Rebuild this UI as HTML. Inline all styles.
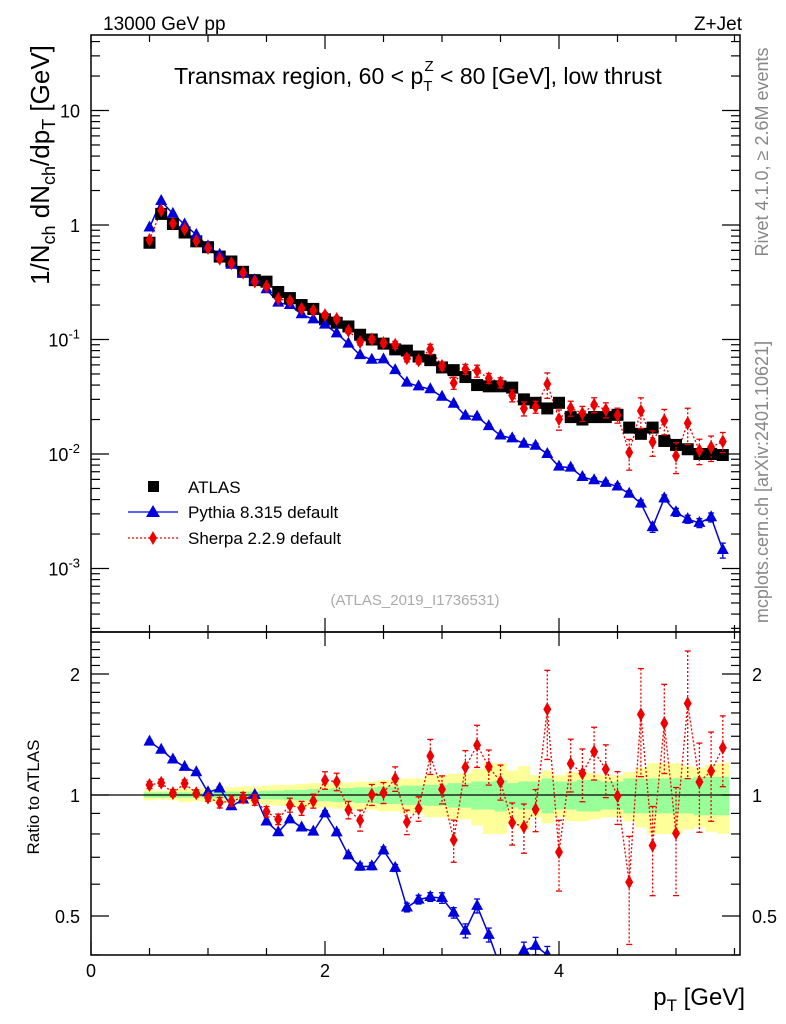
<!DOCTYPE html>
<html><head><meta charset="utf-8">
<style>
html,body{margin:0;background:#fff;overflow:hidden;width:786px;height:1024px;}
svg{display:block;}
svg text{font-family:"Liberation Sans","DejaVu Sans",sans-serif;}
</style></head>
<body>
<svg id="c" width="786" height="1024" viewBox="0 0 786 1024" xmlns="http://www.w3.org/2000/svg">
<text x="103" y="30" font-size="19">13000 GeV pp</text>
<text x="742" y="30" font-size="19" text-anchor="end">Z+Jet</text>
<text x="418" y="84" font-size="23" text-anchor="middle">Transmax region, 60 &lt; p<tspan font-size="15" dy="7">T</tspan><tspan font-size="15" dx="-8" dy="-20">Z</tspan><tspan dy="13"> &lt; 80 [GeV], low thrust</tspan></text>
<text transform="translate(768,152) rotate(-90)" font-size="18" fill="#888" text-anchor="middle">Rivet 4.1.0, ≥ 2.6M events</text>
<text transform="translate(768,482) rotate(-90)" font-size="18" fill="#888" text-anchor="middle">mcplots.cern.ch [arXiv:2401.10621]</text>
<text x="415" y="605" font-size="15" fill="#aaa" text-anchor="middle">(ATLAS_2019_I1736531)</text>
<text transform="translate(49,165) rotate(-90)" font-size="26" text-anchor="middle">1/N<tspan font-size="18" dy="6">ch</tspan><tspan dy="-6"> dN</tspan><tspan font-size="18" dy="6">ch</tspan><tspan dy="-6">/dp</tspan><tspan font-size="18" dy="6">T</tspan><tspan dy="-6"> [GeV]</tspan></text>
<text transform="translate(39,797) rotate(-90)" font-size="17" text-anchor="middle">Ratio to ATLAS</text>
<text x="745" y="1005" font-size="24" text-anchor="end">p<tspan font-size="17" dy="6">T</tspan><tspan dy="-6"> [GeV]</tspan></text>
<g id="bands"></g><g id="marks"></g><g id="axes"></g>
<g>
<rect x="148" y="481" width="11" height="11" fill="#000"/>
<text x="188" y="493" font-size="17">ATLAS</text>
<line x1="128" y1="512" x2="178" y2="512" stroke="#00d" stroke-width="1.3"/>
<polygon points="153,505 160,517 146,517" fill="#00d"/>
<text x="188" y="518" font-size="17">Pythia 8.315 default</text>
<line x1="128" y1="538" x2="178" y2="538" stroke="#e00" stroke-width="1.3" stroke-dasharray="2,2"/>
<polygon points="153,531 157,538 153,545 149,538" fill="#e00"/>
<text x="188" y="544" font-size="17">Sherpa 2.2.9 default</text>
</g>
</svg>
<script>
const xs=[];for(let i=0;i<50;i++)xs.push(+(0.5+0.1*i).toFixed(1));
const atlas=[0.70,1.25,1.02,0.86,0.72,0.64,0.53,0.48,0.39,0.33,0.32,0.26,0.23,0.20,0.185,0.15,0.14,0.13,0.11,0.10,0.092,0.082,0.080,0.071,0.066,0.057,0.054,0.047,0.040,0.039,0.039,0.038,0.030,0.028,0.025,0.028,0.021,0.020,0.021,0.021,0.022,0.017,0.015,0.017,0.013,0.012,0.011,0.010,0.010,0.0098];
const pythia=[0.95,1.62,1.25,1.01,0.82,0.65,0.55,0.45,0.38,0.33,0.275,0.21,0.20,0.166,0.15,0.135,0.113,0.092,0.073,0.0665,0.067,0.054,0.042,0.039,0.0368,0.0316,0.0275,0.0216,0.0212,0.0175,0.0145,0.0137,0.0123,0.0118,0.010,0.00775,0.0076,0.0063,0.0059,0.0056,0.0052,0.0045,0.0037,0.0023,0.0041,0.0031,0.0027,0.0025,0.0028,0.00145];
const sherpaRatio=[1.059,1.073,1.011,1.069,1.01,0.985,0.957,0.966,0.985,0.972,0.909,0.870,0.944,0.927,0.966,1.088,1.079,0.918,0.865,1.002,1.013,1.098,0.857,0.925,1.25,1.033,0.773,1.172,1.331,1.176,1.079,0.853,0.833,0.921,1.634,0.721,1.197,1.132,1.282,1.159,0.994,0.607,1.587,0.749,1.508,0.803,1.69,1.077,1.147,1.311];
const sherpaErr=[0.02,0.02,0.02,0.02,0.02,0.02,0.03,0.03,0.03,0.03,0.03,0.03,0.04,0.04,0.04,0.05,0.05,0.05,0.06,0.06,0.06,0.07,0.07,0.07,0.1,0.08,0.12,0.1,0.12,0.1,0.1,0.12,0.14,0.12,0.25,0.2,0.15,0.15,0.15,0.15,0.15,0.3,0.3,0.25,0.25,0.3,0.35,0.25,0.25,0.2];
const pythiaErr=[0.01,0.01,0.01,0.01,0.01,0.01,0.01,0.01,0.01,0.01,0.01,0.01,0.01,0.01,0.01,0.015,0.015,0.015,0.02,0.02,0.02,0.02,0.025,0.025,0.025,0.03,0.03,0.04,0.04,0.04,0.04,0.05,0.05,0.05,0.05,0.05,0.05,0.05,0.05,0.05,0.06,0.06,0.07,0.1,0.07,0.08,0.08,0.09,0.09,0.15];
const statBand=[0.015,0.015,0.015,0.015,0.015,0.015,0.02,0.02,0.02,0.02,0.025,0.025,0.03,0.03,0.035,0.035,0.04,0.04,0.045,0.045,0.05,0.05,0.055,0.055,0.06,0.06,0.07,0.07,0.08,0.08,0.09,0.07,0.08,0.08,0.1,0.08,0.08,0.09,0.09,0.08,0.08,0.1,0.1,0.1,0.1,0.1,0.1,0.11,0.11,0.11];
const totBand=[0.03,0.025,0.03,0.04,0.035,0.04,0.045,0.045,0.05,0.05,0.055,0.06,0.06,0.065,0.07,0.07,0.075,0.075,0.08,0.08,0.09,0.09,0.1,0.1,0.12,0.12,0.13,0.13,0.16,0.2,0.2,0.15,0.18,0.12,0.15,0.12,0.14,0.14,0.13,0.12,0.12,0.14,0.17,0.2,0.2,0.2,0.18,0.17,0.19,0.2];
const xTicks=[0,2,4];
const mainTickLabels=[[10,"10"],[1,"1"],[0.1,"10<sup>-1</sup>"],[0.01,"10<sup>-2</sup>"],[0.001,"10<sup>-3</sup>"]];
const ratioTickLabels=[[2,"2"],[1,"1"],[0.5,"0.5"]];

const L=91,R=740,MT=35,MB=632,RB=955;
const X=v=>L+v*117;
const Ym=v=>225-Math.log10(v)*114.5;
const Yr=v=>795-Math.log10(v)*402;
const NS='http://www.w3.org/2000/svg';
function el(t,a,p){const e=document.createElementNS(NS,t);for(const k in a)e.setAttribute(k,a[k]);p.appendChild(e);return e;}
const bands=document.getElementById('bands'),marks=document.getElementById('marks'),axes=document.getElementById('axes');
const clipR=el('clipPath',{id:'cr'},bands);el('rect',{x:L,y:MB,width:R-L,height:RB-MB},clipR);
const clipM=el('clipPath',{id:'cm'},bands);el('rect',{x:L,y:MT,width:R-L,height:MB-MT},clipM);
const bg=el('g',{'clip-path':'url(#cr)'},bands);
xs.forEach((x,i)=>{
 const a=el('rect',{x:X(x-0.05),width:117*0.1+0.5,y:Yr(1+totBand[i]),height:Yr(1-totBand[i])-Yr(1+totBand[i]),fill:'#ffff99'},bg);
 
 
});
xs.forEach((x,i)=>{
 const a=el('rect',{x:X(x-0.05),width:117*0.1+0.5,y:Yr(1+statBand[i]),height:Yr(1-statBand[i])-Yr(1+statBand[i]),fill:'#99ff99'},bg);
 
 
});
el('line',{x1:L,x2:R,y1:Yr(1),y2:Yr(1),stroke:'#000','stroke-width':1.3},bg);
const mg=el('g',{'clip-path':'url(#cm)'},marks);
const rg=el('g',{'clip-path':'url(#cr)'},marks);
function tri(g,x,y,c,n){const p=el('polygon',{points:`${x},${y-7} ${x+6},${y+4} ${x-6},${y+4}`,fill:c},g);}
function dia(g,x,y,c,n){const p=el('polygon',{points:`${x},${y-7} ${x+4},${y} ${x},${y+7} ${x-4},${y}`,fill:c},g);}
function eb(g,x,y1,y2,c,d){el('line',{x1:x,x2:x,y1:y1,y2:y2,stroke:c,'stroke-width':1.3,'stroke-dasharray':d||'none'},g);el('line',{x1:x-3,x2:x+3,y1:y1,y2:y1,stroke:c,'stroke-width':1.3},g);el('line',{x1:x-3,x2:x+3,y1:y2,y2:y2,stroke:c,'stroke-width':1.3},g);}
const sherpa=atlas.map((a,i)=>a*sherpaRatio[i]);
el('polyline',{points:xs.map((x,i)=>X(x)+','+Ym(pythia[i])).join(' '),fill:'none',stroke:'#00d','stroke-width':1.5},mg);
el('polyline',{points:xs.map((x,i)=>X(x)+','+Ym(sherpa[i])).join(' '),fill:'none',stroke:'#e00','stroke-width':1.3,'stroke-dasharray':'2,2'},mg);
xs.forEach((x,i)=>{const r=el('rect',{x:X(x)-6,y:Ym(atlas[i])-6,width:12,height:12,fill:'#000'},mg);});
xs.forEach((x,i)=>{eb(mg,X(x),Ym(pythia[i]*(1+pythiaErr[i])),Ym(pythia[i]*(1-pythiaErr[i])),'#00d');tri(mg,X(x),Ym(pythia[i]),'#00d','pythia-point');});
xs.forEach((x,i)=>{eb(mg,X(x),Ym(sherpa[i]*(1+sherpaErr[i])),Ym(sherpa[i]*(1-sherpaErr[i])),'#e00','2,2');dia(mg,X(x),Ym(sherpa[i]),'#e00','sherpa-point');});
const pr=pythia.map((p,i)=>p/atlas[i]);
el('polyline',{points:xs.map((x,i)=>X(x)+','+Yr(pr[i])).join(' '),fill:'none',stroke:'#00d','stroke-width':1.5},rg);
el('polyline',{points:xs.map((x,i)=>X(x)+','+Yr(sherpaRatio[i])).join(' '),fill:'none',stroke:'#e00','stroke-width':1.3,'stroke-dasharray':'2,2'},rg);
xs.forEach((x,i)=>{eb(rg,X(x),Yr(pr[i]*(1+pythiaErr[i])),Yr(pr[i]*(1-pythiaErr[i])),'#00d');tri(rg,X(x),Yr(pr[i]),'#00d','pythia-ratio-point');});
xs.forEach((x,i)=>{eb(rg,X(x),Yr(sherpaRatio[i]*(1+sherpaErr[i])),Yr(sherpaRatio[i]*(1-sherpaErr[i])),'#e00','2,2');dia(rg,X(x),Yr(sherpaRatio[i]),'#e00','sherpa-ratio-point');});
el('rect',{x:L,y:MT,width:R-L,height:MB-MT,fill:'none',stroke:'#000','stroke-width':1.5},axes);
el('rect',{x:L,y:MB,width:R-L,height:RB-MB,fill:'none',stroke:'#000','stroke-width':1.5},axes);
const tk=(x1,y1,x2,y2)=>el('line',{x1,y1,x2,y2,stroke:'#000','stroke-width':1.2},axes);
for(let v=0;v<=5.5;v+=0.5){const big=Math.abs(v%2)<1e-6;const x=X(v),l=big?14:7;
 tk(x,MT,x,MT+l);tk(x,MB,x,MB-l);tk(x,MB,x,MB+l);tk(x,RB,x,RB-l);}
xTicks.forEach(v=>{const t=el('text',{x:X(v),y:977,'font-size':18,'text-anchor':'middle'},axes);t.textContent=v;});
for(let e=-4;e<=1;e++){for(let m=1;m<10;m++){const v=m*Math.pow(10,e);const y=Ym(v);if(y<MT||y>MB)continue;const l=m==1?18:9;tk(L,y,L+l,y);tk(R,y,R-l,y);}}
mainTickLabels.forEach(([v,s])=>{const y=Ym(v);const t=el('text',{x:80,y:y+7,'font-size':18,'text-anchor':'end'},axes);
 if(s.includes('sup')){t.textContent='10';const sp=el('tspan',{'font-size':13,dy:-8},t);sp.textContent=s.match(/<sup>(.*)<\/sup>/)[1];}else t.textContent=s;
 });
for(let v=0.4;v<=2.5;v+=0.1){const y=Yr(v);if(y<MB||y>RB)continue;const big=Math.abs(v-1)<1e-6||Math.abs(v-2)<1e-6||Math.abs(v-0.5)<1e-6;const l=big?18:9;tk(L,y,L+l,y);tk(R,y,R-l,y);}
ratioTickLabels.forEach(([v,s])=>{const y=Yr(v);
 const t=el('text',{x:80,y:y+7,'font-size':18,'text-anchor':'end'},axes);t.textContent=s;
 const t2=el('text',{x:752,y:y+7,'font-size':18},axes);t2.textContent=s;});
</script>
</body></html>
